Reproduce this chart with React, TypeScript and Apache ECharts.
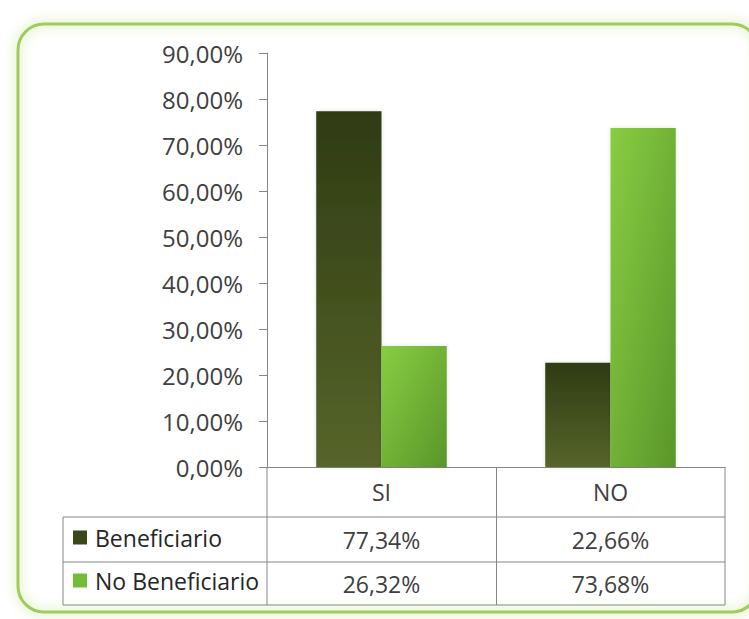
import React, { useEffect, useRef } from "react";
import * as echarts from "echarts";

const categories = ["SI", "NO"];
const beneficiario = [77.34, 22.66];
const noBeneficiario = [26.32, 73.68];
const seriesNames = ["Beneficiario", "No Beneficiario"];
const yTicks = { min: 0, max: 90, interval: 10 };

const fmt = (v: number) => v.toFixed(2).replace(".", ",") + "%";

export default function App() {
  const ref = useRef<HTMLDivElement>(null);
  useEffect(() => {
    if (!ref.current) return;
    const chart = echarts.init(ref.current, null, { renderer: "svg" });
    const font = "Open Sans";
    const grey = "#868686";
    const darkGrad = new echarts.graphic.LinearGradient(0, 0, 0, 1, [
      { offset: 0, color: "#2f3b13" },
      { offset: 1, color: "#56652a" },
    ]);
    const lightGrad = new echarts.graphic.LinearGradient(0, 0, 1, 1, [
      { offset: 0, color: "#88cd42" },
      { offset: 1, color: "#5a962a" },
    ]);
    const L = 267, R = 725, B = 467, T = 53;
    const lines: any[] = [
      [63, 517, R, 517],
      [63, 562, R, 562],
      [63, 605, R, 605],
      [63, 517, 63, 605],
      [L, B, L, 605],
      [(L + R) / 2 + 0.5, B, (L + R) / 2 + 0.5, 605],
      [R, B, R, 605],
    ].map(([x1, y1, x2, y2]) => ({
      type: "line",
      shape: { x1, y1, x2, y2 },
      style: { stroke: grey, lineWidth: 1 },
      silent: true,
    }));
    const hiddenAxis = (vals: number[], offset: number) => ({
      type: "category",
      data: vals.map(fmt),
      position: "bottom",
      offset,
      axisLine: { show: false },
      axisTick: { show: false },
      axisLabel: { fontFamily: font, fontSize: 23, color: "#404040", margin: 13, lineHeight: 24 },
    });
    chart.setOption({
      animation: false,
      backgroundColor: "#ffffff",
      grid: { left: L, right: 749 - R, top: T, bottom: 619 - B, containLabel: false },
      legend: {
        orient: "vertical",
        left: 73,
        top: 526,
        padding: 0,
        itemWidth: 14,
        itemHeight: 14,
        itemGap: 20,
        icon: "rect",
        textStyle: { fontFamily: font, fontSize: 23, color: "#262626", lineHeight: 14, padding: [0, 0, 3, 3] },
        data: [
          { name: seriesNames[0], itemStyle: { color: "#3a4818" } },
          { name: seriesNames[1], itemStyle: { color: "#74bb38" } },
        ],
      },
      xAxis: [
        {
          type: "category",
          data: categories,
          axisLine: { show: true, lineStyle: { color: grey, width: 1 } },
          axisTick: { show: false },
          axisLabel: { fontFamily: font, fontSize: 23, color: "#404040", margin: 13, lineHeight: 24 },
        },
        hiddenAxis(beneficiario, 48),
        hiddenAxis(noBeneficiario, 92),
      ],
      yAxis: {
        type: "value",
        min: yTicks.min,
        max: yTicks.max,
        interval: yTicks.interval,
        axisLine: { show: true, lineStyle: { color: grey, width: 1 } },
        axisTick: { show: true, length: 8, lineStyle: { color: grey } },
        splitLine: { show: false },
        axisLabel: {
          fontFamily: font,
          fontSize: 24,
          color: "#404040",
          margin: 24,
          formatter: (v: number) => fmt(v),
        },
      },
      series: [
        {
          name: seriesNames[0],
          type: "bar",
          data: beneficiario,
          barGap: "0%",
          barCategoryGap: "43%",
          itemStyle: { color: darkGrad, shadowBlur: 4, shadowColor: "rgba(0,0,0,0.12)" },
        },
        {
          name: seriesNames[1],
          type: "bar",
          data: noBeneficiario,
          barGap: "0%",
          barCategoryGap: "43%",
          itemStyle: { color: lightGrad, shadowBlur: 4, shadowColor: "rgba(0,0,0,0.12)" },
        },
      ],
      graphic: [
        {
          type: "rect",
          shape: { x: 18, y: 24, width: 740, height: 588, r: 26 },
          style: {
            fill: "none",
            stroke: "#9fcd5c",
            lineWidth: 3,
            shadowBlur: 12,
            shadowColor: "rgba(160,215,90,0.8)",
          },
          silent: true,
          z: -1,
        },
        ...lines,
      ],
    });
    return () => chart.dispose();
  }, []);
  return (
    <div
      ref={ref}
      style={{ position: "fixed", left: 0, top: 0, width: 749, height: 619 }}
    />
  );
}
